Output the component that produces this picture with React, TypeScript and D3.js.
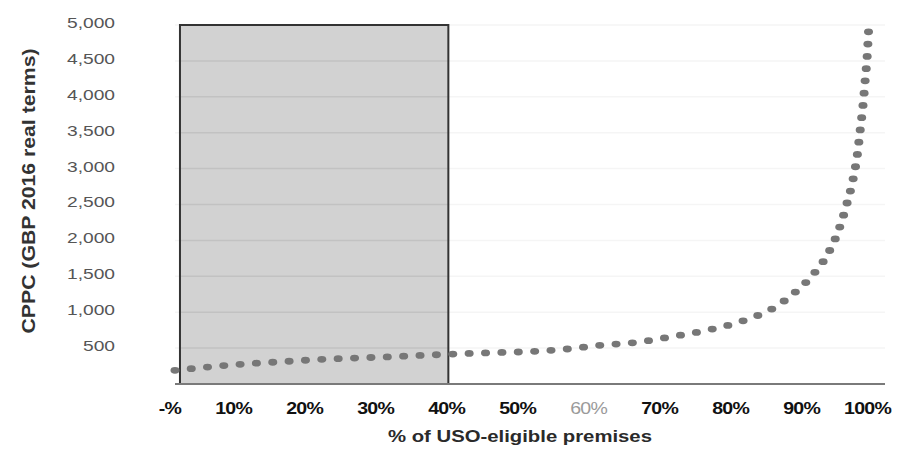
import React from "react";
import * as d3 from "d3";

const curveX = [0, 0.05, 0.1, 0.15, 0.2, 0.25, 0.3, 0.35, 0.4, 0.45, 0.5, 0.55, 0.6, 0.65, 0.7, 0.75, 0.8, 0.85, 0.87, 0.9, 0.92, 0.935, 0.946, 0.955, 0.961, 0.965, 0.969, 0.972, 0.975, 0.977];
const curveY = [190, 240, 280, 310, 340, 360, 378, 400, 420, 437, 452, 485, 540, 580, 660, 750, 880, 1100, 1250, 1540, 1820, 2150, 2500, 2850, 3190, 3530, 3880, 4220, 4580, 4950];

const yTicks = [500, 1000, 1500, 2000, 2500, 3000, 3500, 4000, 4500, 5000];
const xTicks = [0, 0.1, 0.2, 0.3, 0.4, 0.5, 0.6, 0.7, 0.8, 0.9, 1];
const xTickLabels = ["-%", "10%", "20%", "30%", "40%", "50%", "60%", "70%", "80%", "90%", "100%"];

const shadeRange = [0.007, 0.385];
const shadeTop = 5000;

const yTitle = "CPPC (GBP 2016 real terms)";
const xTitle = "% of USO-eligible premises";

const W = 899;
const H = 468;
const S = 1.333; // horizontal stretch of the scanned picture

export default function App() {
  const x = d3.scaleLinear().domain([0, 1]).range([175, 885]);
  const y = d3.scaleLinear().domain([0, 5000]).range([384, 25]);

  const line = d3
    .line<number>()
    .x((_, i) => x(curveX[i]) / S)
    .y((d) => y(d))
    .curve(d3.curveMonotoneX);

  const rx0 = x(shadeRange[0]);
  const rx1 = x(shadeRange[1]);

  const font = "'Liberation Sans', Arial, sans-serif";

  return (
    <svg
      width={W}
      height={H}
      viewBox={`0 0 ${W} ${H}`}
      style={{ position: "absolute", left: 0, top: 0, background: "#fff" }}
      fontFamily={font}
    >
      <rect x={0} y={0} width={W} height={H} fill="#fff" />
      {/* faint gridlines across plot */}
      {yTicks.map((t) => (
        <line key={"fg" + t} x1={x(0)} x2={x(1)} y1={y(t)} y2={y(t)} stroke="#f5f5f5" strokeWidth={1.5} />
      ))}
      {/* shaded region */}
      <rect
        x={rx0}
        y={y(shadeTop)}
        width={rx1 - rx0}
        height={y(0) - y(shadeTop)}
        fill="#d2d2d2"
        stroke="none"
      />
      {yTicks.slice(0, -1).map((t) => (
        <line key={"g" + t} x1={rx0} x2={rx1} y1={y(t)} y2={y(t)} stroke="#c2c2c2" strokeWidth={1.5} />
      ))}
      <rect
        x={rx0}
        y={y(shadeTop)}
        width={rx1 - rx0}
        height={y(0) - y(shadeTop)}
        fill="none"
        stroke="#333"
        strokeWidth={2}
      />
      {/* x axis line */}
      <line x1={x(0)} x2={x(1)} y1={y(0)} y2={y(0)} stroke="#7a7a7a" strokeWidth={2} />
      {/* dotted curve */}
      <g transform={`scale(${S},1)`}>
        <path
          d={line(curveY) || ""}
          fill="none"
          stroke="#777"
          strokeWidth={6.8}
          strokeDasharray="0 12.3"
          strokeLinecap="round"
        />
      </g>
      {/* y tick labels */}
      {yTicks.map((t) => (
        <text
          key={"yt" + t}
          transform={`translate(115,${y(t) - 1}) scale(1.28,1)`}
          textAnchor="end"
          dominantBaseline="middle"
          fontSize={15}
          fill="#555"
        >
          {d3.format(",")(t)}
        </text>
      ))}
      {/* x tick labels */}
      {xTicks.map((t, i) => {
        const faded = xTickLabels[i] === "60%";
        return (
          <text
            key={"xt" + t}
            transform={`translate(${x(t) + 6},410) scale(1.22,1)`}
            textAnchor="end"
            dominantBaseline="middle"
            fontSize={16}
            fontWeight={faded ? 400 : 700}
            fill={faded ? "#9a9a9a" : "#111"}
            letterSpacing={-0.6}
          >
            {xTickLabels[i]}
          </text>
        );
      })}
      {/* axis titles */}
      <text
        transform="translate(520,438) scale(1.27,1)"
        textAnchor="middle"
        dominantBaseline="middle"
        fontSize={16}
        fontWeight={700}
        fill="#2a2a2a"
      >
        {xTitle}
      </text>
      <text
        transform="translate(30,191) rotate(-90)"
        textAnchor="middle"
        dominantBaseline="middle"
        fontSize={18}
        fontWeight={700}
        fill="#333"
        textLength={285}
        lengthAdjust="spacingAndGlyphs"
      >
        {yTitle}
      </text>
    </svg>
  );
}
